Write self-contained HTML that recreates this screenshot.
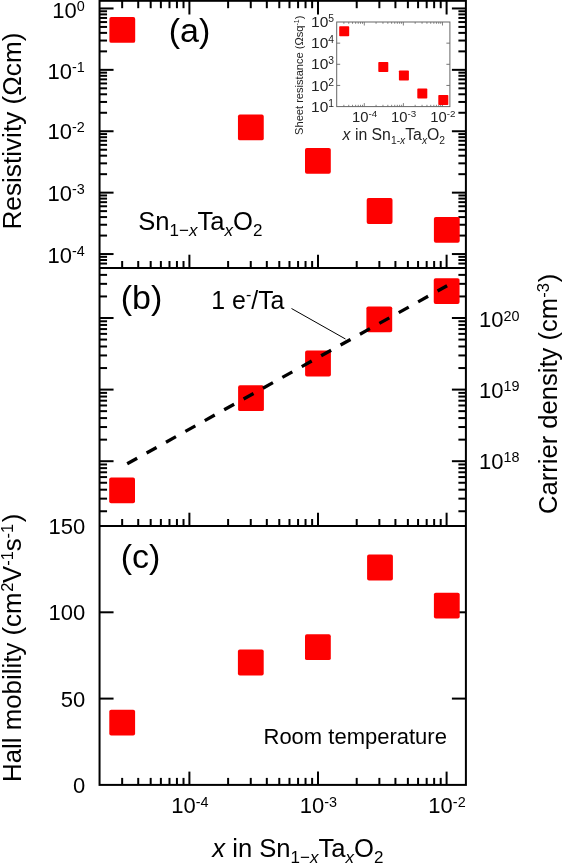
<!DOCTYPE html>
<html><head><meta charset="utf-8"><title>Figure</title>
<style>html,body{margin:0;padding:0;background:#fff;}svg{display:block;}</style>
</head><body>
<svg width="563" height="864" viewBox="0 0 563 864">
<rect x="0" y="0" width="563" height="864" fill="#fff"/>
<line x1="122.16" y1="0.80" x2="122.16" y2="8.20" stroke="#000" stroke-width="2.0" />
<line x1="138.22" y1="0.80" x2="138.22" y2="8.20" stroke="#000" stroke-width="2.0" />
<line x1="150.69" y1="0.80" x2="150.69" y2="8.20" stroke="#000" stroke-width="2.0" />
<line x1="160.87" y1="0.80" x2="160.87" y2="8.20" stroke="#000" stroke-width="2.0" />
<line x1="169.48" y1="0.80" x2="169.48" y2="8.20" stroke="#000" stroke-width="2.0" />
<line x1="176.94" y1="0.80" x2="176.94" y2="8.20" stroke="#000" stroke-width="2.0" />
<line x1="183.52" y1="0.80" x2="183.52" y2="8.20" stroke="#000" stroke-width="2.0" />
<line x1="189.40" y1="0.80" x2="189.40" y2="14.50" stroke="#000" stroke-width="2.0" />
<line x1="228.11" y1="0.80" x2="228.11" y2="8.20" stroke="#000" stroke-width="2.0" />
<line x1="250.76" y1="0.80" x2="250.76" y2="8.20" stroke="#000" stroke-width="2.0" />
<line x1="266.82" y1="0.80" x2="266.82" y2="8.20" stroke="#000" stroke-width="2.0" />
<line x1="279.29" y1="0.80" x2="279.29" y2="8.20" stroke="#000" stroke-width="2.0" />
<line x1="289.47" y1="0.80" x2="289.47" y2="8.20" stroke="#000" stroke-width="2.0" />
<line x1="298.08" y1="0.80" x2="298.08" y2="8.20" stroke="#000" stroke-width="2.0" />
<line x1="305.54" y1="0.80" x2="305.54" y2="8.20" stroke="#000" stroke-width="2.0" />
<line x1="312.12" y1="0.80" x2="312.12" y2="8.20" stroke="#000" stroke-width="2.0" />
<line x1="318.00" y1="0.80" x2="318.00" y2="14.50" stroke="#000" stroke-width="2.0" />
<line x1="356.71" y1="0.80" x2="356.71" y2="8.20" stroke="#000" stroke-width="2.0" />
<line x1="379.36" y1="0.80" x2="379.36" y2="8.20" stroke="#000" stroke-width="2.0" />
<line x1="395.42" y1="0.80" x2="395.42" y2="8.20" stroke="#000" stroke-width="2.0" />
<line x1="407.89" y1="0.80" x2="407.89" y2="8.20" stroke="#000" stroke-width="2.0" />
<line x1="418.07" y1="0.80" x2="418.07" y2="8.20" stroke="#000" stroke-width="2.0" />
<line x1="426.68" y1="0.80" x2="426.68" y2="8.20" stroke="#000" stroke-width="2.0" />
<line x1="434.14" y1="0.80" x2="434.14" y2="8.20" stroke="#000" stroke-width="2.0" />
<line x1="440.72" y1="0.80" x2="440.72" y2="8.20" stroke="#000" stroke-width="2.0" />
<line x1="446.60" y1="0.80" x2="446.60" y2="14.50" stroke="#000" stroke-width="2.0" />
<line x1="122.16" y1="268.00" x2="122.16" y2="261.00" stroke="#000" stroke-width="2.0" />
<line x1="138.22" y1="268.00" x2="138.22" y2="261.00" stroke="#000" stroke-width="2.0" />
<line x1="150.69" y1="268.00" x2="150.69" y2="261.00" stroke="#000" stroke-width="2.0" />
<line x1="160.87" y1="268.00" x2="160.87" y2="261.00" stroke="#000" stroke-width="2.0" />
<line x1="169.48" y1="268.00" x2="169.48" y2="261.00" stroke="#000" stroke-width="2.0" />
<line x1="176.94" y1="268.00" x2="176.94" y2="261.00" stroke="#000" stroke-width="2.0" />
<line x1="183.52" y1="268.00" x2="183.52" y2="261.00" stroke="#000" stroke-width="2.0" />
<line x1="189.40" y1="268.00" x2="189.40" y2="254.70" stroke="#000" stroke-width="2.0" />
<line x1="228.11" y1="268.00" x2="228.11" y2="261.00" stroke="#000" stroke-width="2.0" />
<line x1="250.76" y1="268.00" x2="250.76" y2="261.00" stroke="#000" stroke-width="2.0" />
<line x1="266.82" y1="268.00" x2="266.82" y2="261.00" stroke="#000" stroke-width="2.0" />
<line x1="279.29" y1="268.00" x2="279.29" y2="261.00" stroke="#000" stroke-width="2.0" />
<line x1="289.47" y1="268.00" x2="289.47" y2="261.00" stroke="#000" stroke-width="2.0" />
<line x1="298.08" y1="268.00" x2="298.08" y2="261.00" stroke="#000" stroke-width="2.0" />
<line x1="305.54" y1="268.00" x2="305.54" y2="261.00" stroke="#000" stroke-width="2.0" />
<line x1="312.12" y1="268.00" x2="312.12" y2="261.00" stroke="#000" stroke-width="2.0" />
<line x1="318.00" y1="268.00" x2="318.00" y2="254.70" stroke="#000" stroke-width="2.0" />
<line x1="356.71" y1="268.00" x2="356.71" y2="261.00" stroke="#000" stroke-width="2.0" />
<line x1="379.36" y1="268.00" x2="379.36" y2="261.00" stroke="#000" stroke-width="2.0" />
<line x1="395.42" y1="268.00" x2="395.42" y2="261.00" stroke="#000" stroke-width="2.0" />
<line x1="407.89" y1="268.00" x2="407.89" y2="261.00" stroke="#000" stroke-width="2.0" />
<line x1="418.07" y1="268.00" x2="418.07" y2="261.00" stroke="#000" stroke-width="2.0" />
<line x1="426.68" y1="268.00" x2="426.68" y2="261.00" stroke="#000" stroke-width="2.0" />
<line x1="434.14" y1="268.00" x2="434.14" y2="261.00" stroke="#000" stroke-width="2.0" />
<line x1="440.72" y1="268.00" x2="440.72" y2="261.00" stroke="#000" stroke-width="2.0" />
<line x1="446.60" y1="268.00" x2="446.60" y2="254.70" stroke="#000" stroke-width="2.0" />
<line x1="99.55" y1="263.56" x2="107.05" y2="263.56" stroke="#000" stroke-width="2.0" />
<line x1="465.90" y1="263.56" x2="458.40" y2="263.56" stroke="#000" stroke-width="2.0" />
<line x1="99.55" y1="260.00" x2="107.05" y2="260.00" stroke="#000" stroke-width="2.0" />
<line x1="465.90" y1="260.00" x2="458.40" y2="260.00" stroke="#000" stroke-width="2.0" />
<line x1="99.55" y1="256.86" x2="107.05" y2="256.86" stroke="#000" stroke-width="2.0" />
<line x1="465.90" y1="256.86" x2="458.40" y2="256.86" stroke="#000" stroke-width="2.0" />
<line x1="99.55" y1="254.05" x2="113.55" y2="254.05" stroke="#000" stroke-width="2.0" />
<line x1="465.90" y1="254.05" x2="451.90" y2="254.05" stroke="#000" stroke-width="2.0" />
<line x1="99.55" y1="235.57" x2="107.05" y2="235.57" stroke="#000" stroke-width="2.0" />
<line x1="465.90" y1="235.57" x2="458.40" y2="235.57" stroke="#000" stroke-width="2.0" />
<line x1="99.55" y1="224.75" x2="107.05" y2="224.75" stroke="#000" stroke-width="2.0" />
<line x1="465.90" y1="224.75" x2="458.40" y2="224.75" stroke="#000" stroke-width="2.0" />
<line x1="99.55" y1="217.08" x2="107.05" y2="217.08" stroke="#000" stroke-width="2.0" />
<line x1="465.90" y1="217.08" x2="458.40" y2="217.08" stroke="#000" stroke-width="2.0" />
<line x1="99.55" y1="211.13" x2="107.05" y2="211.13" stroke="#000" stroke-width="2.0" />
<line x1="465.90" y1="211.13" x2="458.40" y2="211.13" stroke="#000" stroke-width="2.0" />
<line x1="99.55" y1="206.27" x2="107.05" y2="206.27" stroke="#000" stroke-width="2.0" />
<line x1="465.90" y1="206.27" x2="458.40" y2="206.27" stroke="#000" stroke-width="2.0" />
<line x1="99.55" y1="202.16" x2="107.05" y2="202.16" stroke="#000" stroke-width="2.0" />
<line x1="465.90" y1="202.16" x2="458.40" y2="202.16" stroke="#000" stroke-width="2.0" />
<line x1="99.55" y1="198.60" x2="107.05" y2="198.60" stroke="#000" stroke-width="2.0" />
<line x1="465.90" y1="198.60" x2="458.40" y2="198.60" stroke="#000" stroke-width="2.0" />
<line x1="99.55" y1="195.46" x2="107.05" y2="195.46" stroke="#000" stroke-width="2.0" />
<line x1="465.90" y1="195.46" x2="458.40" y2="195.46" stroke="#000" stroke-width="2.0" />
<line x1="99.55" y1="192.65" x2="113.55" y2="192.65" stroke="#000" stroke-width="2.0" />
<line x1="465.90" y1="192.65" x2="451.90" y2="192.65" stroke="#000" stroke-width="2.0" />
<line x1="99.55" y1="174.17" x2="107.05" y2="174.17" stroke="#000" stroke-width="2.0" />
<line x1="465.90" y1="174.17" x2="458.40" y2="174.17" stroke="#000" stroke-width="2.0" />
<line x1="99.55" y1="163.35" x2="107.05" y2="163.35" stroke="#000" stroke-width="2.0" />
<line x1="465.90" y1="163.35" x2="458.40" y2="163.35" stroke="#000" stroke-width="2.0" />
<line x1="99.55" y1="155.68" x2="107.05" y2="155.68" stroke="#000" stroke-width="2.0" />
<line x1="465.90" y1="155.68" x2="458.40" y2="155.68" stroke="#000" stroke-width="2.0" />
<line x1="99.55" y1="149.73" x2="107.05" y2="149.73" stroke="#000" stroke-width="2.0" />
<line x1="465.90" y1="149.73" x2="458.40" y2="149.73" stroke="#000" stroke-width="2.0" />
<line x1="99.55" y1="144.87" x2="107.05" y2="144.87" stroke="#000" stroke-width="2.0" />
<line x1="465.90" y1="144.87" x2="458.40" y2="144.87" stroke="#000" stroke-width="2.0" />
<line x1="99.55" y1="140.76" x2="107.05" y2="140.76" stroke="#000" stroke-width="2.0" />
<line x1="465.90" y1="140.76" x2="458.40" y2="140.76" stroke="#000" stroke-width="2.0" />
<line x1="99.55" y1="137.20" x2="107.05" y2="137.20" stroke="#000" stroke-width="2.0" />
<line x1="465.90" y1="137.20" x2="458.40" y2="137.20" stroke="#000" stroke-width="2.0" />
<line x1="99.55" y1="134.06" x2="107.05" y2="134.06" stroke="#000" stroke-width="2.0" />
<line x1="465.90" y1="134.06" x2="458.40" y2="134.06" stroke="#000" stroke-width="2.0" />
<line x1="99.55" y1="131.25" x2="113.55" y2="131.25" stroke="#000" stroke-width="2.0" />
<line x1="465.90" y1="131.25" x2="451.90" y2="131.25" stroke="#000" stroke-width="2.0" />
<line x1="99.55" y1="112.77" x2="107.05" y2="112.77" stroke="#000" stroke-width="2.0" />
<line x1="465.90" y1="112.77" x2="458.40" y2="112.77" stroke="#000" stroke-width="2.0" />
<line x1="99.55" y1="101.95" x2="107.05" y2="101.95" stroke="#000" stroke-width="2.0" />
<line x1="465.90" y1="101.95" x2="458.40" y2="101.95" stroke="#000" stroke-width="2.0" />
<line x1="99.55" y1="94.28" x2="107.05" y2="94.28" stroke="#000" stroke-width="2.0" />
<line x1="465.90" y1="94.28" x2="458.40" y2="94.28" stroke="#000" stroke-width="2.0" />
<line x1="99.55" y1="88.33" x2="107.05" y2="88.33" stroke="#000" stroke-width="2.0" />
<line x1="465.90" y1="88.33" x2="458.40" y2="88.33" stroke="#000" stroke-width="2.0" />
<line x1="99.55" y1="83.47" x2="107.05" y2="83.47" stroke="#000" stroke-width="2.0" />
<line x1="465.90" y1="83.47" x2="458.40" y2="83.47" stroke="#000" stroke-width="2.0" />
<line x1="99.55" y1="79.36" x2="107.05" y2="79.36" stroke="#000" stroke-width="2.0" />
<line x1="465.90" y1="79.36" x2="458.40" y2="79.36" stroke="#000" stroke-width="2.0" />
<line x1="99.55" y1="75.80" x2="107.05" y2="75.80" stroke="#000" stroke-width="2.0" />
<line x1="465.90" y1="75.80" x2="458.40" y2="75.80" stroke="#000" stroke-width="2.0" />
<line x1="99.55" y1="72.66" x2="107.05" y2="72.66" stroke="#000" stroke-width="2.0" />
<line x1="465.90" y1="72.66" x2="458.40" y2="72.66" stroke="#000" stroke-width="2.0" />
<line x1="99.55" y1="69.85" x2="113.55" y2="69.85" stroke="#000" stroke-width="2.0" />
<line x1="465.90" y1="69.85" x2="451.90" y2="69.85" stroke="#000" stroke-width="2.0" />
<line x1="99.55" y1="51.37" x2="107.05" y2="51.37" stroke="#000" stroke-width="2.0" />
<line x1="465.90" y1="51.37" x2="458.40" y2="51.37" stroke="#000" stroke-width="2.0" />
<line x1="99.55" y1="40.55" x2="107.05" y2="40.55" stroke="#000" stroke-width="2.0" />
<line x1="465.90" y1="40.55" x2="458.40" y2="40.55" stroke="#000" stroke-width="2.0" />
<line x1="99.55" y1="32.88" x2="107.05" y2="32.88" stroke="#000" stroke-width="2.0" />
<line x1="465.90" y1="32.88" x2="458.40" y2="32.88" stroke="#000" stroke-width="2.0" />
<line x1="99.55" y1="26.93" x2="107.05" y2="26.93" stroke="#000" stroke-width="2.0" />
<line x1="465.90" y1="26.93" x2="458.40" y2="26.93" stroke="#000" stroke-width="2.0" />
<line x1="99.55" y1="22.07" x2="107.05" y2="22.07" stroke="#000" stroke-width="2.0" />
<line x1="465.90" y1="22.07" x2="458.40" y2="22.07" stroke="#000" stroke-width="2.0" />
<line x1="99.55" y1="17.96" x2="107.05" y2="17.96" stroke="#000" stroke-width="2.0" />
<line x1="465.90" y1="17.96" x2="458.40" y2="17.96" stroke="#000" stroke-width="2.0" />
<line x1="99.55" y1="14.40" x2="107.05" y2="14.40" stroke="#000" stroke-width="2.0" />
<line x1="465.90" y1="14.40" x2="458.40" y2="14.40" stroke="#000" stroke-width="2.0" />
<line x1="99.55" y1="11.26" x2="107.05" y2="11.26" stroke="#000" stroke-width="2.0" />
<line x1="465.90" y1="11.26" x2="458.40" y2="11.26" stroke="#000" stroke-width="2.0" />
<line x1="99.55" y1="8.45" x2="113.55" y2="8.45" stroke="#000" stroke-width="2.0" />
<line x1="465.90" y1="8.45" x2="451.90" y2="8.45" stroke="#000" stroke-width="2.0" />
<line x1="122.16" y1="526.00" x2="122.16" y2="519.00" stroke="#000" stroke-width="2.0" />
<line x1="138.22" y1="526.00" x2="138.22" y2="519.00" stroke="#000" stroke-width="2.0" />
<line x1="150.69" y1="526.00" x2="150.69" y2="519.00" stroke="#000" stroke-width="2.0" />
<line x1="160.87" y1="526.00" x2="160.87" y2="519.00" stroke="#000" stroke-width="2.0" />
<line x1="169.48" y1="526.00" x2="169.48" y2="519.00" stroke="#000" stroke-width="2.0" />
<line x1="176.94" y1="526.00" x2="176.94" y2="519.00" stroke="#000" stroke-width="2.0" />
<line x1="183.52" y1="526.00" x2="183.52" y2="519.00" stroke="#000" stroke-width="2.0" />
<line x1="189.40" y1="526.00" x2="189.40" y2="512.70" stroke="#000" stroke-width="2.0" />
<line x1="228.11" y1="526.00" x2="228.11" y2="519.00" stroke="#000" stroke-width="2.0" />
<line x1="250.76" y1="526.00" x2="250.76" y2="519.00" stroke="#000" stroke-width="2.0" />
<line x1="266.82" y1="526.00" x2="266.82" y2="519.00" stroke="#000" stroke-width="2.0" />
<line x1="279.29" y1="526.00" x2="279.29" y2="519.00" stroke="#000" stroke-width="2.0" />
<line x1="289.47" y1="526.00" x2="289.47" y2="519.00" stroke="#000" stroke-width="2.0" />
<line x1="298.08" y1="526.00" x2="298.08" y2="519.00" stroke="#000" stroke-width="2.0" />
<line x1="305.54" y1="526.00" x2="305.54" y2="519.00" stroke="#000" stroke-width="2.0" />
<line x1="312.12" y1="526.00" x2="312.12" y2="519.00" stroke="#000" stroke-width="2.0" />
<line x1="318.00" y1="526.00" x2="318.00" y2="512.70" stroke="#000" stroke-width="2.0" />
<line x1="356.71" y1="526.00" x2="356.71" y2="519.00" stroke="#000" stroke-width="2.0" />
<line x1="379.36" y1="526.00" x2="379.36" y2="519.00" stroke="#000" stroke-width="2.0" />
<line x1="395.42" y1="526.00" x2="395.42" y2="519.00" stroke="#000" stroke-width="2.0" />
<line x1="407.89" y1="526.00" x2="407.89" y2="519.00" stroke="#000" stroke-width="2.0" />
<line x1="418.07" y1="526.00" x2="418.07" y2="519.00" stroke="#000" stroke-width="2.0" />
<line x1="426.68" y1="526.00" x2="426.68" y2="519.00" stroke="#000" stroke-width="2.0" />
<line x1="434.14" y1="526.00" x2="434.14" y2="519.00" stroke="#000" stroke-width="2.0" />
<line x1="440.72" y1="526.00" x2="440.72" y2="519.00" stroke="#000" stroke-width="2.0" />
<line x1="446.60" y1="526.00" x2="446.60" y2="512.70" stroke="#000" stroke-width="2.0" />
<line x1="99.55" y1="511.25" x2="107.05" y2="511.25" stroke="#000" stroke-width="2.0" />
<line x1="465.90" y1="511.25" x2="458.40" y2="511.25" stroke="#000" stroke-width="2.0" />
<line x1="99.55" y1="498.64" x2="107.05" y2="498.64" stroke="#000" stroke-width="2.0" />
<line x1="465.90" y1="498.64" x2="458.40" y2="498.64" stroke="#000" stroke-width="2.0" />
<line x1="99.55" y1="489.69" x2="107.05" y2="489.69" stroke="#000" stroke-width="2.0" />
<line x1="465.90" y1="489.69" x2="458.40" y2="489.69" stroke="#000" stroke-width="2.0" />
<line x1="99.55" y1="482.75" x2="107.05" y2="482.75" stroke="#000" stroke-width="2.0" />
<line x1="465.90" y1="482.75" x2="458.40" y2="482.75" stroke="#000" stroke-width="2.0" />
<line x1="99.55" y1="477.08" x2="107.05" y2="477.08" stroke="#000" stroke-width="2.0" />
<line x1="465.90" y1="477.08" x2="458.40" y2="477.08" stroke="#000" stroke-width="2.0" />
<line x1="99.55" y1="472.29" x2="107.05" y2="472.29" stroke="#000" stroke-width="2.0" />
<line x1="465.90" y1="472.29" x2="458.40" y2="472.29" stroke="#000" stroke-width="2.0" />
<line x1="99.55" y1="468.14" x2="107.05" y2="468.14" stroke="#000" stroke-width="2.0" />
<line x1="465.90" y1="468.14" x2="458.40" y2="468.14" stroke="#000" stroke-width="2.0" />
<line x1="99.55" y1="464.48" x2="107.05" y2="464.48" stroke="#000" stroke-width="2.0" />
<line x1="465.90" y1="464.48" x2="458.40" y2="464.48" stroke="#000" stroke-width="2.0" />
<line x1="99.55" y1="461.20" x2="113.55" y2="461.20" stroke="#000" stroke-width="2.0" />
<line x1="465.90" y1="461.20" x2="451.90" y2="461.20" stroke="#000" stroke-width="2.0" />
<line x1="99.55" y1="439.65" x2="107.05" y2="439.65" stroke="#000" stroke-width="2.0" />
<line x1="465.90" y1="439.65" x2="458.40" y2="439.65" stroke="#000" stroke-width="2.0" />
<line x1="99.55" y1="427.04" x2="107.05" y2="427.04" stroke="#000" stroke-width="2.0" />
<line x1="465.90" y1="427.04" x2="458.40" y2="427.04" stroke="#000" stroke-width="2.0" />
<line x1="99.55" y1="418.09" x2="107.05" y2="418.09" stroke="#000" stroke-width="2.0" />
<line x1="465.90" y1="418.09" x2="458.40" y2="418.09" stroke="#000" stroke-width="2.0" />
<line x1="99.55" y1="411.15" x2="107.05" y2="411.15" stroke="#000" stroke-width="2.0" />
<line x1="465.90" y1="411.15" x2="458.40" y2="411.15" stroke="#000" stroke-width="2.0" />
<line x1="99.55" y1="405.48" x2="107.05" y2="405.48" stroke="#000" stroke-width="2.0" />
<line x1="465.90" y1="405.48" x2="458.40" y2="405.48" stroke="#000" stroke-width="2.0" />
<line x1="99.55" y1="400.69" x2="107.05" y2="400.69" stroke="#000" stroke-width="2.0" />
<line x1="465.90" y1="400.69" x2="458.40" y2="400.69" stroke="#000" stroke-width="2.0" />
<line x1="99.55" y1="396.54" x2="107.05" y2="396.54" stroke="#000" stroke-width="2.0" />
<line x1="465.90" y1="396.54" x2="458.40" y2="396.54" stroke="#000" stroke-width="2.0" />
<line x1="99.55" y1="392.88" x2="107.05" y2="392.88" stroke="#000" stroke-width="2.0" />
<line x1="465.90" y1="392.88" x2="458.40" y2="392.88" stroke="#000" stroke-width="2.0" />
<line x1="99.55" y1="389.60" x2="113.55" y2="389.60" stroke="#000" stroke-width="2.0" />
<line x1="465.90" y1="389.60" x2="451.90" y2="389.60" stroke="#000" stroke-width="2.0" />
<line x1="99.55" y1="368.05" x2="107.05" y2="368.05" stroke="#000" stroke-width="2.0" />
<line x1="465.90" y1="368.05" x2="458.40" y2="368.05" stroke="#000" stroke-width="2.0" />
<line x1="99.55" y1="355.44" x2="107.05" y2="355.44" stroke="#000" stroke-width="2.0" />
<line x1="465.90" y1="355.44" x2="458.40" y2="355.44" stroke="#000" stroke-width="2.0" />
<line x1="99.55" y1="346.49" x2="107.05" y2="346.49" stroke="#000" stroke-width="2.0" />
<line x1="465.90" y1="346.49" x2="458.40" y2="346.49" stroke="#000" stroke-width="2.0" />
<line x1="99.55" y1="339.55" x2="107.05" y2="339.55" stroke="#000" stroke-width="2.0" />
<line x1="465.90" y1="339.55" x2="458.40" y2="339.55" stroke="#000" stroke-width="2.0" />
<line x1="99.55" y1="333.88" x2="107.05" y2="333.88" stroke="#000" stroke-width="2.0" />
<line x1="465.90" y1="333.88" x2="458.40" y2="333.88" stroke="#000" stroke-width="2.0" />
<line x1="99.55" y1="329.09" x2="107.05" y2="329.09" stroke="#000" stroke-width="2.0" />
<line x1="465.90" y1="329.09" x2="458.40" y2="329.09" stroke="#000" stroke-width="2.0" />
<line x1="99.55" y1="324.94" x2="107.05" y2="324.94" stroke="#000" stroke-width="2.0" />
<line x1="465.90" y1="324.94" x2="458.40" y2="324.94" stroke="#000" stroke-width="2.0" />
<line x1="99.55" y1="321.28" x2="107.05" y2="321.28" stroke="#000" stroke-width="2.0" />
<line x1="465.90" y1="321.28" x2="458.40" y2="321.28" stroke="#000" stroke-width="2.0" />
<line x1="99.55" y1="318.00" x2="113.55" y2="318.00" stroke="#000" stroke-width="2.0" />
<line x1="465.90" y1="318.00" x2="451.90" y2="318.00" stroke="#000" stroke-width="2.0" />
<line x1="99.55" y1="296.45" x2="107.05" y2="296.45" stroke="#000" stroke-width="2.0" />
<line x1="465.90" y1="296.45" x2="458.40" y2="296.45" stroke="#000" stroke-width="2.0" />
<line x1="99.55" y1="283.84" x2="107.05" y2="283.84" stroke="#000" stroke-width="2.0" />
<line x1="465.90" y1="283.84" x2="458.40" y2="283.84" stroke="#000" stroke-width="2.0" />
<line x1="99.55" y1="274.89" x2="107.05" y2="274.89" stroke="#000" stroke-width="2.0" />
<line x1="465.90" y1="274.89" x2="458.40" y2="274.89" stroke="#000" stroke-width="2.0" />
<line x1="122.16" y1="784.90" x2="122.16" y2="777.90" stroke="#000" stroke-width="2.0" />
<line x1="138.22" y1="784.90" x2="138.22" y2="777.90" stroke="#000" stroke-width="2.0" />
<line x1="150.69" y1="784.90" x2="150.69" y2="777.90" stroke="#000" stroke-width="2.0" />
<line x1="160.87" y1="784.90" x2="160.87" y2="777.90" stroke="#000" stroke-width="2.0" />
<line x1="169.48" y1="784.90" x2="169.48" y2="777.90" stroke="#000" stroke-width="2.0" />
<line x1="176.94" y1="784.90" x2="176.94" y2="777.90" stroke="#000" stroke-width="2.0" />
<line x1="183.52" y1="784.90" x2="183.52" y2="777.90" stroke="#000" stroke-width="2.0" />
<line x1="189.40" y1="784.90" x2="189.40" y2="771.60" stroke="#000" stroke-width="2.0" />
<line x1="228.11" y1="784.90" x2="228.11" y2="777.90" stroke="#000" stroke-width="2.0" />
<line x1="250.76" y1="784.90" x2="250.76" y2="777.90" stroke="#000" stroke-width="2.0" />
<line x1="266.82" y1="784.90" x2="266.82" y2="777.90" stroke="#000" stroke-width="2.0" />
<line x1="279.29" y1="784.90" x2="279.29" y2="777.90" stroke="#000" stroke-width="2.0" />
<line x1="289.47" y1="784.90" x2="289.47" y2="777.90" stroke="#000" stroke-width="2.0" />
<line x1="298.08" y1="784.90" x2="298.08" y2="777.90" stroke="#000" stroke-width="2.0" />
<line x1="305.54" y1="784.90" x2="305.54" y2="777.90" stroke="#000" stroke-width="2.0" />
<line x1="312.12" y1="784.90" x2="312.12" y2="777.90" stroke="#000" stroke-width="2.0" />
<line x1="318.00" y1="784.90" x2="318.00" y2="771.60" stroke="#000" stroke-width="2.0" />
<line x1="356.71" y1="784.90" x2="356.71" y2="777.90" stroke="#000" stroke-width="2.0" />
<line x1="379.36" y1="784.90" x2="379.36" y2="777.90" stroke="#000" stroke-width="2.0" />
<line x1="395.42" y1="784.90" x2="395.42" y2="777.90" stroke="#000" stroke-width="2.0" />
<line x1="407.89" y1="784.90" x2="407.89" y2="777.90" stroke="#000" stroke-width="2.0" />
<line x1="418.07" y1="784.90" x2="418.07" y2="777.90" stroke="#000" stroke-width="2.0" />
<line x1="426.68" y1="784.90" x2="426.68" y2="777.90" stroke="#000" stroke-width="2.0" />
<line x1="434.14" y1="784.90" x2="434.14" y2="777.90" stroke="#000" stroke-width="2.0" />
<line x1="440.72" y1="784.90" x2="440.72" y2="777.90" stroke="#000" stroke-width="2.0" />
<line x1="446.60" y1="784.90" x2="446.60" y2="771.60" stroke="#000" stroke-width="2.0" />
<line x1="99.55" y1="698.60" x2="113.55" y2="698.60" stroke="#000" stroke-width="2.0" />
<line x1="465.90" y1="698.60" x2="451.90" y2="698.60" stroke="#000" stroke-width="2.0" />
<line x1="99.55" y1="612.30" x2="113.55" y2="612.30" stroke="#000" stroke-width="2.0" />
<line x1="465.90" y1="612.30" x2="451.90" y2="612.30" stroke="#000" stroke-width="2.0" />
<rect x="99.55" y="0.8" width="366.34999999999997" height="784.1" fill="none" stroke="#000" stroke-width="2.0"/>
<line x1="99.55" y1="268.00" x2="465.90" y2="268.00" stroke="#000" stroke-width="2.0" />
<line x1="99.55" y1="526.00" x2="465.90" y2="526.00" stroke="#000" stroke-width="2.0" />
<rect x="109.40" y="17.00" width="25.8" height="25.8" rx="1.9" ry="1.9" fill="#fe0000"/>
<rect x="237.95" y="114.50" width="25.8" height="25.8" rx="1.9" ry="1.9" fill="#fe0000"/>
<rect x="305.00" y="147.90" width="25.8" height="25.8" rx="1.9" ry="1.9" fill="#fe0000"/>
<rect x="366.70" y="198.10" width="25.8" height="25.8" rx="1.9" ry="1.9" fill="#fe0000"/>
<rect x="433.90" y="216.90" width="25.8" height="25.8" rx="1.9" ry="1.9" fill="#fe0000"/>
<rect x="109.20" y="477.40" width="25.8" height="25.8" rx="1.9" ry="1.9" fill="#fe0000"/>
<rect x="238.10" y="385.30" width="25.8" height="25.8" rx="1.9" ry="1.9" fill="#fe0000"/>
<rect x="305.10" y="350.60" width="25.8" height="25.8" rx="1.9" ry="1.9" fill="#fe0000"/>
<rect x="366.40" y="306.40" width="25.8" height="25.8" rx="1.9" ry="1.9" fill="#fe0000"/>
<rect x="433.75" y="278.20" width="25.8" height="25.8" rx="1.9" ry="1.9" fill="#fe0000"/>
<rect x="109.30" y="709.70" width="25.8" height="25.8" rx="1.9" ry="1.9" fill="#fe0000"/>
<rect x="237.90" y="649.60" width="25.8" height="25.8" rx="1.9" ry="1.9" fill="#fe0000"/>
<rect x="305.00" y="634.30" width="25.8" height="25.8" rx="1.9" ry="1.9" fill="#fe0000"/>
<rect x="367.10" y="554.60" width="25.8" height="25.8" rx="1.9" ry="1.9" fill="#fe0000"/>
<rect x="433.90" y="592.70" width="25.8" height="25.8" rx="1.9" ry="1.9" fill="#fe0000"/>
<line x1="127.2" y1="463.8" x2="447.1" y2="285.7" stroke="#000" stroke-width="3.3" stroke-dasharray="11.4 10.8"/>
<line x1="291.50" y1="308.50" x2="345.50" y2="339.00" stroke="#000" stroke-width="1.0" />
<text x="84.7" y="17.65" font-size="22" text-anchor="end" font-family="Liberation Sans, Arial, sans-serif" >10<tspan font-size="14.4" dy="-6.7">0</tspan><tspan dy="6.7" font-size="1">&#8203;</tspan></text>
<text x="84.7" y="79.05" font-size="22" text-anchor="end" font-family="Liberation Sans, Arial, sans-serif" >10<tspan font-size="14.4" dy="-6.7">-1</tspan><tspan dy="6.7" font-size="1">&#8203;</tspan></text>
<text x="84.7" y="139.15" font-size="22" text-anchor="end" font-family="Liberation Sans, Arial, sans-serif" >10<tspan font-size="14.4" dy="-6.7">-2</tspan><tspan dy="6.7" font-size="1">&#8203;</tspan></text>
<text x="84.7" y="200.54999999999998" font-size="22" text-anchor="end" font-family="Liberation Sans, Arial, sans-serif" >10<tspan font-size="14.4" dy="-6.7">-3</tspan><tspan dy="6.7" font-size="1">&#8203;</tspan></text>
<text x="84.7" y="262.54999999999995" font-size="22" text-anchor="end" font-family="Liberation Sans, Arial, sans-serif" >10<tspan font-size="14.4" dy="-6.7">-4</tspan><tspan dy="6.7" font-size="1">&#8203;</tspan></text>
<text x="479.0" y="327.2" font-size="22" text-anchor="start" font-family="Liberation Sans, Arial, sans-serif" >10<tspan font-size="14.4" dy="-6.7">20</tspan><tspan dy="6.7" font-size="1">&#8203;</tspan></text>
<text x="479.0" y="397.8" font-size="22" text-anchor="start" font-family="Liberation Sans, Arial, sans-serif" >10<tspan font-size="14.4" dy="-6.7">19</tspan><tspan dy="6.7" font-size="1">&#8203;</tspan></text>
<text x="479.0" y="468.8" font-size="22" text-anchor="start" font-family="Liberation Sans, Arial, sans-serif" >10<tspan font-size="14.4" dy="-6.7">18</tspan><tspan dy="6.7" font-size="1">&#8203;</tspan></text>
<text x="85.2" y="792.5" font-size="22" text-anchor="end" font-family="Liberation Sans, Arial, sans-serif" >0</text>
<text x="85.2" y="706.7" font-size="22" text-anchor="end" font-family="Liberation Sans, Arial, sans-serif" >50</text>
<text x="85.2" y="620.4" font-size="22" text-anchor="end" font-family="Liberation Sans, Arial, sans-serif" >100</text>
<text x="85.2" y="534.1" font-size="22" text-anchor="end" font-family="Liberation Sans, Arial, sans-serif" >150</text>
<text x="189.8" y="813.4" font-size="22" text-anchor="middle" font-family="Liberation Sans, Arial, sans-serif" >10<tspan font-size="14.4" dy="-6.7">-4</tspan><tspan dy="6.7" font-size="1">&#8203;</tspan></text>
<text x="318.4" y="813.4" font-size="22" text-anchor="middle" font-family="Liberation Sans, Arial, sans-serif" >10<tspan font-size="14.4" dy="-6.7">-3</tspan><tspan dy="6.7" font-size="1">&#8203;</tspan></text>
<text x="447.0" y="813.4" font-size="22" text-anchor="middle" font-family="Liberation Sans, Arial, sans-serif" >10<tspan font-size="14.4" dy="-6.7">-2</tspan><tspan dy="6.7" font-size="1">&#8203;</tspan></text>
<text x="212.3" y="857" font-size="25.6" text-anchor="start" font-family="Liberation Sans, Arial, sans-serif" ><tspan font-style="italic">x</tspan> in Sn<tspan font-size="17" dy="6">1−<tspan font-style="italic">x</tspan></tspan><tspan dy="-6" font-size="1">&#8203;</tspan>Ta<tspan font-size="17" dy="6" font-style="italic">x</tspan><tspan dy="-6" font-size="1">&#8203;</tspan>O<tspan font-size="17" dy="6">2</tspan><tspan dy="-6" font-size="1">&#8203;</tspan></text>
<text x="138.3" y="230.4" font-size="25.6" text-anchor="start" font-family="Liberation Sans, Arial, sans-serif" >Sn<tspan font-size="17" dy="6">1−<tspan font-style="italic">x</tspan></tspan><tspan dy="-6" font-size="1">&#8203;</tspan>Ta<tspan font-size="17" dy="6" font-style="italic">x</tspan><tspan dy="-6" font-size="1">&#8203;</tspan>O<tspan font-size="17" dy="6">2</tspan><tspan dy="-6" font-size="1">&#8203;</tspan></text>
<text x="168.8" y="42" font-size="34" text-anchor="start" font-family="Liberation Sans, Arial, sans-serif" >(a)</text>
<text x="120.8" y="309" font-size="34" text-anchor="start" font-family="Liberation Sans, Arial, sans-serif" >(b)</text>
<text x="120.8" y="568" font-size="34" text-anchor="start" font-family="Liberation Sans, Arial, sans-serif" >(c)</text>
<text x="263.5" y="744" font-size="22" text-anchor="start" font-family="Liberation Sans, Arial, sans-serif" >Room temperature</text>
<text x="211.3" y="308.5" font-size="24.9" text-anchor="start" font-family="Liberation Sans, Arial, sans-serif" >1 e<tspan font-size="16" dy="-9">-</tspan><tspan dy="9" font-size="1">&#8203;</tspan>/Ta</text>
<text transform="translate(20.8,229.6) rotate(-90)" font-size="26.2" font-family="Liberation Sans, Arial, sans-serif">Resistivity (Ωcm)</text>
<text transform="translate(20.7,782) rotate(-90)" font-size="25.85" font-family="Liberation Sans, Arial, sans-serif"><tspan>Hall mobility (cm</tspan><tspan font-size="16.5" dy="-8.1" dx="0.7">2</tspan><tspan font-size="25.85" dy="8.1" dx="-0.5">V</tspan><tspan font-size="16.5" dy="-8.1">-1</tspan><tspan font-size="25.85" dy="8.1" dx="-0.2">s</tspan><tspan font-size="16.5" dy="-8.1">-1</tspan><tspan font-size="25.85" dy="8.1" dx="1.6">)</tspan></text>
<text transform="translate(557,514) rotate(-90)" font-size="25.6" font-family="Liberation Sans, Arial, sans-serif"><tspan>Carrier density (cm</tspan><tspan font-size="16.5" dy="-8.1">-3</tspan><tspan font-size="25.6" dy="8.1" dx="1">)</tspan></text>
<rect x="336.7" y="22.0" width="113.19999999999999" height="84.6" fill="#fff" stroke="#666" stroke-width="1"/>
<line x1="343.86" y1="22.00" x2="343.86" y2="23.80" stroke="#666" stroke-width="0.8" />
<line x1="343.86" y1="106.60" x2="343.86" y2="104.80" stroke="#666" stroke-width="0.8" />
<line x1="348.74" y1="22.00" x2="348.74" y2="23.80" stroke="#666" stroke-width="0.8" />
<line x1="348.74" y1="106.60" x2="348.74" y2="104.80" stroke="#666" stroke-width="0.8" />
<line x1="352.53" y1="22.00" x2="352.53" y2="23.80" stroke="#666" stroke-width="0.8" />
<line x1="352.53" y1="106.60" x2="352.53" y2="104.80" stroke="#666" stroke-width="0.8" />
<line x1="355.63" y1="22.00" x2="355.63" y2="23.80" stroke="#666" stroke-width="0.8" />
<line x1="355.63" y1="106.60" x2="355.63" y2="104.80" stroke="#666" stroke-width="0.8" />
<line x1="358.24" y1="22.00" x2="358.24" y2="23.80" stroke="#666" stroke-width="0.8" />
<line x1="358.24" y1="106.60" x2="358.24" y2="104.80" stroke="#666" stroke-width="0.8" />
<line x1="360.51" y1="22.00" x2="360.51" y2="23.80" stroke="#666" stroke-width="0.8" />
<line x1="360.51" y1="106.60" x2="360.51" y2="104.80" stroke="#666" stroke-width="0.8" />
<line x1="362.51" y1="22.00" x2="362.51" y2="23.80" stroke="#666" stroke-width="0.8" />
<line x1="362.51" y1="106.60" x2="362.51" y2="104.80" stroke="#666" stroke-width="0.8" />
<line x1="364.30" y1="22.00" x2="364.30" y2="25.50" stroke="#666" stroke-width="0.8" />
<line x1="364.30" y1="106.60" x2="364.30" y2="103.10" stroke="#666" stroke-width="0.8" />
<line x1="376.07" y1="22.00" x2="376.07" y2="23.80" stroke="#666" stroke-width="0.8" />
<line x1="376.07" y1="106.60" x2="376.07" y2="104.80" stroke="#666" stroke-width="0.8" />
<line x1="382.96" y1="22.00" x2="382.96" y2="23.80" stroke="#666" stroke-width="0.8" />
<line x1="382.96" y1="106.60" x2="382.96" y2="104.80" stroke="#666" stroke-width="0.8" />
<line x1="387.84" y1="22.00" x2="387.84" y2="23.80" stroke="#666" stroke-width="0.8" />
<line x1="387.84" y1="106.60" x2="387.84" y2="104.80" stroke="#666" stroke-width="0.8" />
<line x1="391.63" y1="22.00" x2="391.63" y2="23.80" stroke="#666" stroke-width="0.8" />
<line x1="391.63" y1="106.60" x2="391.63" y2="104.80" stroke="#666" stroke-width="0.8" />
<line x1="394.73" y1="22.00" x2="394.73" y2="23.80" stroke="#666" stroke-width="0.8" />
<line x1="394.73" y1="106.60" x2="394.73" y2="104.80" stroke="#666" stroke-width="0.8" />
<line x1="397.34" y1="22.00" x2="397.34" y2="23.80" stroke="#666" stroke-width="0.8" />
<line x1="397.34" y1="106.60" x2="397.34" y2="104.80" stroke="#666" stroke-width="0.8" />
<line x1="399.61" y1="22.00" x2="399.61" y2="23.80" stroke="#666" stroke-width="0.8" />
<line x1="399.61" y1="106.60" x2="399.61" y2="104.80" stroke="#666" stroke-width="0.8" />
<line x1="401.61" y1="22.00" x2="401.61" y2="23.80" stroke="#666" stroke-width="0.8" />
<line x1="401.61" y1="106.60" x2="401.61" y2="104.80" stroke="#666" stroke-width="0.8" />
<line x1="403.40" y1="22.00" x2="403.40" y2="25.50" stroke="#666" stroke-width="0.8" />
<line x1="403.40" y1="106.60" x2="403.40" y2="103.10" stroke="#666" stroke-width="0.8" />
<line x1="415.17" y1="22.00" x2="415.17" y2="23.80" stroke="#666" stroke-width="0.8" />
<line x1="415.17" y1="106.60" x2="415.17" y2="104.80" stroke="#666" stroke-width="0.8" />
<line x1="422.06" y1="22.00" x2="422.06" y2="23.80" stroke="#666" stroke-width="0.8" />
<line x1="422.06" y1="106.60" x2="422.06" y2="104.80" stroke="#666" stroke-width="0.8" />
<line x1="426.94" y1="22.00" x2="426.94" y2="23.80" stroke="#666" stroke-width="0.8" />
<line x1="426.94" y1="106.60" x2="426.94" y2="104.80" stroke="#666" stroke-width="0.8" />
<line x1="430.73" y1="22.00" x2="430.73" y2="23.80" stroke="#666" stroke-width="0.8" />
<line x1="430.73" y1="106.60" x2="430.73" y2="104.80" stroke="#666" stroke-width="0.8" />
<line x1="433.83" y1="22.00" x2="433.83" y2="23.80" stroke="#666" stroke-width="0.8" />
<line x1="433.83" y1="106.60" x2="433.83" y2="104.80" stroke="#666" stroke-width="0.8" />
<line x1="436.44" y1="22.00" x2="436.44" y2="23.80" stroke="#666" stroke-width="0.8" />
<line x1="436.44" y1="106.60" x2="436.44" y2="104.80" stroke="#666" stroke-width="0.8" />
<line x1="438.71" y1="22.00" x2="438.71" y2="23.80" stroke="#666" stroke-width="0.8" />
<line x1="438.71" y1="106.60" x2="438.71" y2="104.80" stroke="#666" stroke-width="0.8" />
<line x1="440.71" y1="22.00" x2="440.71" y2="23.80" stroke="#666" stroke-width="0.8" />
<line x1="440.71" y1="106.60" x2="440.71" y2="104.80" stroke="#666" stroke-width="0.8" />
<line x1="442.50" y1="22.00" x2="442.50" y2="25.50" stroke="#666" stroke-width="0.8" />
<line x1="442.50" y1="106.60" x2="442.50" y2="103.10" stroke="#666" stroke-width="0.8" />
<line x1="336.70" y1="85.45" x2="340.20" y2="85.45" stroke="#666" stroke-width="0.9" />
<line x1="449.90" y1="85.45" x2="446.40" y2="85.45" stroke="#666" stroke-width="0.9" />
<line x1="336.70" y1="64.30" x2="340.20" y2="64.30" stroke="#666" stroke-width="0.9" />
<line x1="449.90" y1="64.30" x2="446.40" y2="64.30" stroke="#666" stroke-width="0.9" />
<line x1="336.70" y1="43.15" x2="340.20" y2="43.15" stroke="#666" stroke-width="0.9" />
<line x1="449.90" y1="43.15" x2="446.40" y2="43.15" stroke="#666" stroke-width="0.9" />
<rect x="339.20" y="26.30" width="10" height="10" rx="0.8" ry="0.8" fill="#fe0000"/>
<rect x="378.30" y="62.00" width="10" height="10" rx="0.8" ry="0.8" fill="#fe0000"/>
<rect x="398.90" y="70.50" width="10" height="10" rx="0.8" ry="0.8" fill="#fe0000"/>
<rect x="417.30" y="88.60" width="10" height="10" rx="0.8" ry="0.8" fill="#fe0000"/>
<rect x="438.30" y="95.00" width="10" height="10" rx="0.8" ry="0.8" fill="#fe0000"/>
<text x="334" y="27.1" font-size="15.5" text-anchor="end" font-family="Liberation Sans, Arial, sans-serif" fill="#222">10<tspan font-size="10.3" dy="-5.0">5</tspan><tspan dy="5.0" font-size="1">&#8203;</tspan></text>
<text x="334" y="48.25" font-size="15.5" text-anchor="end" font-family="Liberation Sans, Arial, sans-serif" fill="#222">10<tspan font-size="10.3" dy="-5.0">4</tspan><tspan dy="5.0" font-size="1">&#8203;</tspan></text>
<text x="334" y="69.39999999999999" font-size="15.5" text-anchor="end" font-family="Liberation Sans, Arial, sans-serif" fill="#222">10<tspan font-size="10.3" dy="-5.0">3</tspan><tspan dy="5.0" font-size="1">&#8203;</tspan></text>
<text x="334" y="90.54999999999998" font-size="15.5" text-anchor="end" font-family="Liberation Sans, Arial, sans-serif" fill="#222">10<tspan font-size="10.3" dy="-5.0">2</tspan><tspan dy="5.0" font-size="1">&#8203;</tspan></text>
<text x="334" y="111.69999999999999" font-size="15.5" text-anchor="end" font-family="Liberation Sans, Arial, sans-serif" fill="#222">10<tspan font-size="10.3" dy="-5.0">1</tspan><tspan dy="5.0" font-size="1">&#8203;</tspan></text>
<text x="364.6" y="121.9" font-size="14.8" text-anchor="middle" font-family="Liberation Sans, Arial, sans-serif" fill="#222">10<tspan font-size="9.8" dy="-5.0">-4</tspan><tspan dy="5.0" font-size="1">&#8203;</tspan></text>
<text x="403.70000000000005" y="121.9" font-size="14.8" text-anchor="middle" font-family="Liberation Sans, Arial, sans-serif" fill="#222">10<tspan font-size="9.8" dy="-5.0">-3</tspan><tspan dy="5.0" font-size="1">&#8203;</tspan></text>
<text x="442.8" y="121.9" font-size="14.8" text-anchor="middle" font-family="Liberation Sans, Arial, sans-serif" fill="#222">10<tspan font-size="9.8" dy="-5.0">-2</tspan><tspan dy="5.0" font-size="1">&#8203;</tspan></text>
<text x="342.6" y="140.2" font-size="15.8" text-anchor="start" font-family="Liberation Sans, Arial, sans-serif" fill="#222"><tspan font-style="italic">x</tspan> in Sn<tspan font-size="10.3" dy="3.6">1-<tspan font-style="italic">x</tspan></tspan><tspan dy="-3.6" font-size="1">&#8203;</tspan>Ta<tspan font-size="10.3" dy="3.6" font-style="italic">x</tspan><tspan dy="-3.6" font-size="1">&#8203;</tspan>O<tspan font-size="10.3" dy="3.6">2</tspan><tspan dy="-3.6" font-size="1">&#8203;</tspan></text>
<text transform="translate(302.8,134.9) rotate(-90)" font-size="11.1" font-family="Liberation Sans, Arial, sans-serif" fill="#222">Sheet resistance (Ωsq<tspan font-size="7" dy="-3.8">-1</tspan><tspan dy="3.8" font-size="1">&#8203;</tspan>)</text>
</svg>
</body></html>
